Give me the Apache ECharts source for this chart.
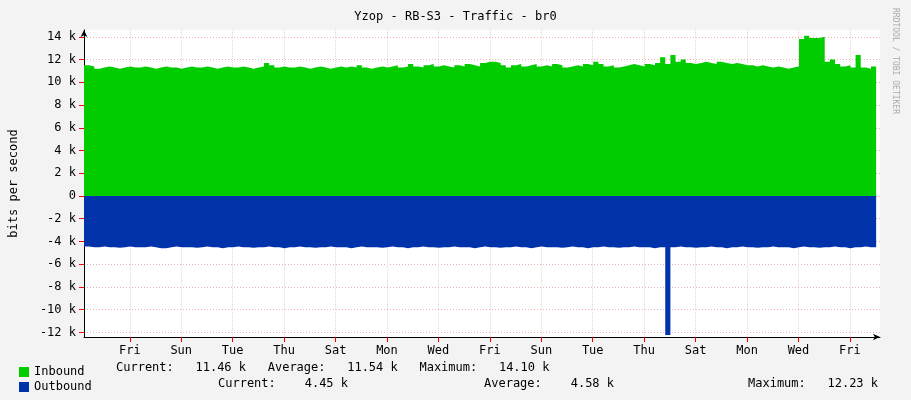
<!DOCTYPE html>
<html><head><meta charset="utf-8">
<script src="https://cdn.jsdelivr.net/npm/echarts@6/dist/echarts.min.js"></script>
<style>html,body{margin:0;background:#f3f3f3}#c{width:911px;height:400px}</style>
</head><body><div id="c"></div>
<script>
// sample step (days) and values in k bits/s
var stepDays = 0.2;
var inbound = [
 11.5,11.4,11.2,11.3,11.4,11.3,11.2,11.3,11.4,11.3,
 11.3,11.4,11.3,11.2,11.3,11.4,11.3,11.3,11.2,11.3,
 11.4,11.3,11.3,11.4,11.3,11.2,11.3,11.4,11.3,11.3,
 11.4,11.3,11.2,11.3,11.4,11.7,11.5,11.3,11.4,11.3,
 11.3,11.4,11.3,11.2,11.3,11.4,11.3,11.2,11.3,11.4,
 11.3,11.4,11.3,11.5,11.3,11.2,11.3,11.4,11.3,11.4,
 11.5,11.3,11.4,11.6,11.4,11.3,11.5,11.6,11.4,11.5,
 11.4,11.3,11.5,11.4,11.6,11.5,11.4,11.7,11.8,11.8,
 11.7,11.5,11.3,11.5,11.6,11.4,11.5,11.6,11.4,11.5,
 11.4,11.6,11.5,11.3,11.4,11.5,11.4,11.6,11.5,11.8,
 11.6,11.4,11.5,11.3,11.4,11.5,11.6,11.5,11.4,11.6,
 11.5,11.7,12.2,11.6,12.4,11.8,12.0,11.7,11.6,11.7,
 11.8,11.7,11.6,11.8,11.7,11.6,11.7,11.6,11.5,11.5,
 11.4,11.5,11.4,11.3,11.4,11.3,11.2,11.3,11.4,13.8,
 14.1,13.9,13.9,14.0,11.8,12.0,11.6,11.4,11.5,11.3,
 12.4,11.3,11.2,11.4,11.5
];
var outbound = [
 4.45,4.5,4.5,4.45,4.5,4.5,4.55,4.5,4.45,4.5,
 4.5,4.5,4.45,4.5,4.6,4.6,4.5,4.45,4.5,4.5,
 4.5,4.55,4.5,4.45,4.5,4.5,4.6,4.5,4.5,4.45,
 4.5,4.5,4.55,4.5,4.5,4.45,4.5,4.5,4.6,4.5,
 4.5,4.45,4.5,4.5,4.55,4.5,4.5,4.45,4.5,4.5,
 4.5,4.6,4.5,4.45,4.5,4.5,4.5,4.55,4.5,4.45,
 4.5,4.5,4.6,4.5,4.5,4.45,4.5,4.5,4.55,4.5,
 4.5,4.45,4.5,4.5,4.5,4.6,4.5,4.45,4.5,4.5,
 4.55,4.5,4.5,4.45,4.5,4.5,4.6,4.5,4.45,4.5,
 4.5,4.5,4.55,4.5,4.45,4.5,4.5,4.6,4.5,4.5,
 4.45,4.5,4.5,4.55,4.5,4.5,4.45,4.5,4.5,4.5,
 4.6,4.5,4.5,12.23,4.5,4.45,4.5,4.5,4.55,4.5,
 4.5,4.45,4.5,4.5,4.6,4.5,4.5,4.45,4.5,4.5,
 4.55,4.5,4.5,4.45,4.5,4.5,4.5,4.6,4.5,4.45,
 4.5,4.5,4.55,4.5,4.5,4.45,4.5,4.5,4.6,4.5,
 4.5,4.45,4.5,4.5,4.45
];
var dayLabels = ['Fri','Sun','Tue','Thu','Sat','Mon','Wed','Fri','Sun','Tue','Thu','Sat','Mon','Wed','Fri'];
var dayLabelPos = [1.78,3.78,5.78,7.78,9.78,11.78,13.78,15.78,17.78,19.78,21.78,23.78,25.78,27.78,29.78];
var yTicks = [-12,-10,-8,-6,-4,-2,0,2,4,6,8,10,12,14];

var inData = inbound.map(function(v,i){return [i*stepDays, v*1000];});
var outData = outbound.map(function(v,i){return [i*stepDays, -v*1000];});
var mono = 'DejaVu Sans Mono';

var chart = echarts.init(document.getElementById('c'));
chart.setOption({
  backgroundColor:'#f3f3f3',
  animation:false,
  title:{text:'Yzop - RB-S3 - Traffic - br0',left:'center',top:6,
    textStyle:{fontFamily:mono,fontSize:12,fontWeight:'normal',color:'#000'}},
  grid:{left:78,right:31,top:30,bottom:63,show:true,backgroundColor:'#fff',borderWidth:0},
  xAxis:{type:'value',min:0,max:30.95,
    axisLine:{onZero:false,lineStyle:{color:'#000'},symbol:['none','arrow'],symbolSize:[5,7]},
    axisTick:{show:true,customValues:dayLabelPos,lineStyle:{color:'#f00'}},
    axisLabel:{customValues:dayLabelPos,fontFamily:mono,fontSize:12,color:'#000',
      formatter:function(v){var i=dayLabelPos.indexOf(v);return i>=0?dayLabels[i]:'';}},
    splitLine:{show:true,lineStyle:{color:'#f0d0d0',type:'dotted'}}},
  yAxis:{type:'value',min:-12400,max:14600,
    name:'bits per second',nameLocation:'middle',nameGap:64,nameRotate:90,
    nameTextStyle:{fontFamily:mono,fontSize:12,color:'#000'},
    axisLine:{show:true,onZero:false,lineStyle:{color:'#000'},symbol:['none','arrow'],symbolSize:[5,7]},
    axisTick:{show:true,customValues:yTicks.map(function(t){return t*1000;}),lineStyle:{color:'#f00'}},
    axisLabel:{customValues:yTicks.map(function(t){return t*1000;}),fontFamily:mono,fontSize:12,color:'#000',
      formatter:function(v){return v===0?'0':(v/1000)+' k';}},
    splitLine:{show:true,lineStyle:{color:'#f0b0b0',type:[1,2]}}},
  legend:{orient:'vertical',left:14,top:361,itemGap:3,itemWidth:10,itemHeight:10,icon:'rect',
    textStyle:{fontFamily:mono,fontSize:12,color:'#000'},data:['Inbound','Outbound']},
  graphic:[
    {type:'text',left:116,top:362,style:{text:'Current:   11.46 k   Average:   11.54 k   Maximum:   14.10 k',font:'12px '+mono,fill:'#000'}},
    {type:'text',left:218,top:378,style:{text:'Current:    4.45 k',font:'12px '+mono,fill:'#000'}},
    {type:'text',left:484,top:378,style:{text:'Average:    4.58 k',font:'12px '+mono,fill:'#000'}},
    {type:'text',left:748,top:378,style:{text:'Maximum:   12.23 k',font:'12px '+mono,fill:'#000'}},
    {type:'text',x:899,y:8,rotation:-Math.PI/2,style:{text:'RRDTOOL / TOBI OETIKER',font:'8px '+mono,fill:'#aaa'}}
  ],
  series:[
    {name:'Inbound',type:'line',step:'end',symbol:'none',data:inData,
      itemStyle:{color:'#00cc00'},lineStyle:{width:0},areaStyle:{color:'#00cc00',opacity:1}},
    {name:'Outbound',type:'line',step:'end',symbol:'none',data:outData,
      itemStyle:{color:'#0033aa'},lineStyle:{width:0},areaStyle:{color:'#0033aa',opacity:1}}
  ]
});
</script></body></html>
